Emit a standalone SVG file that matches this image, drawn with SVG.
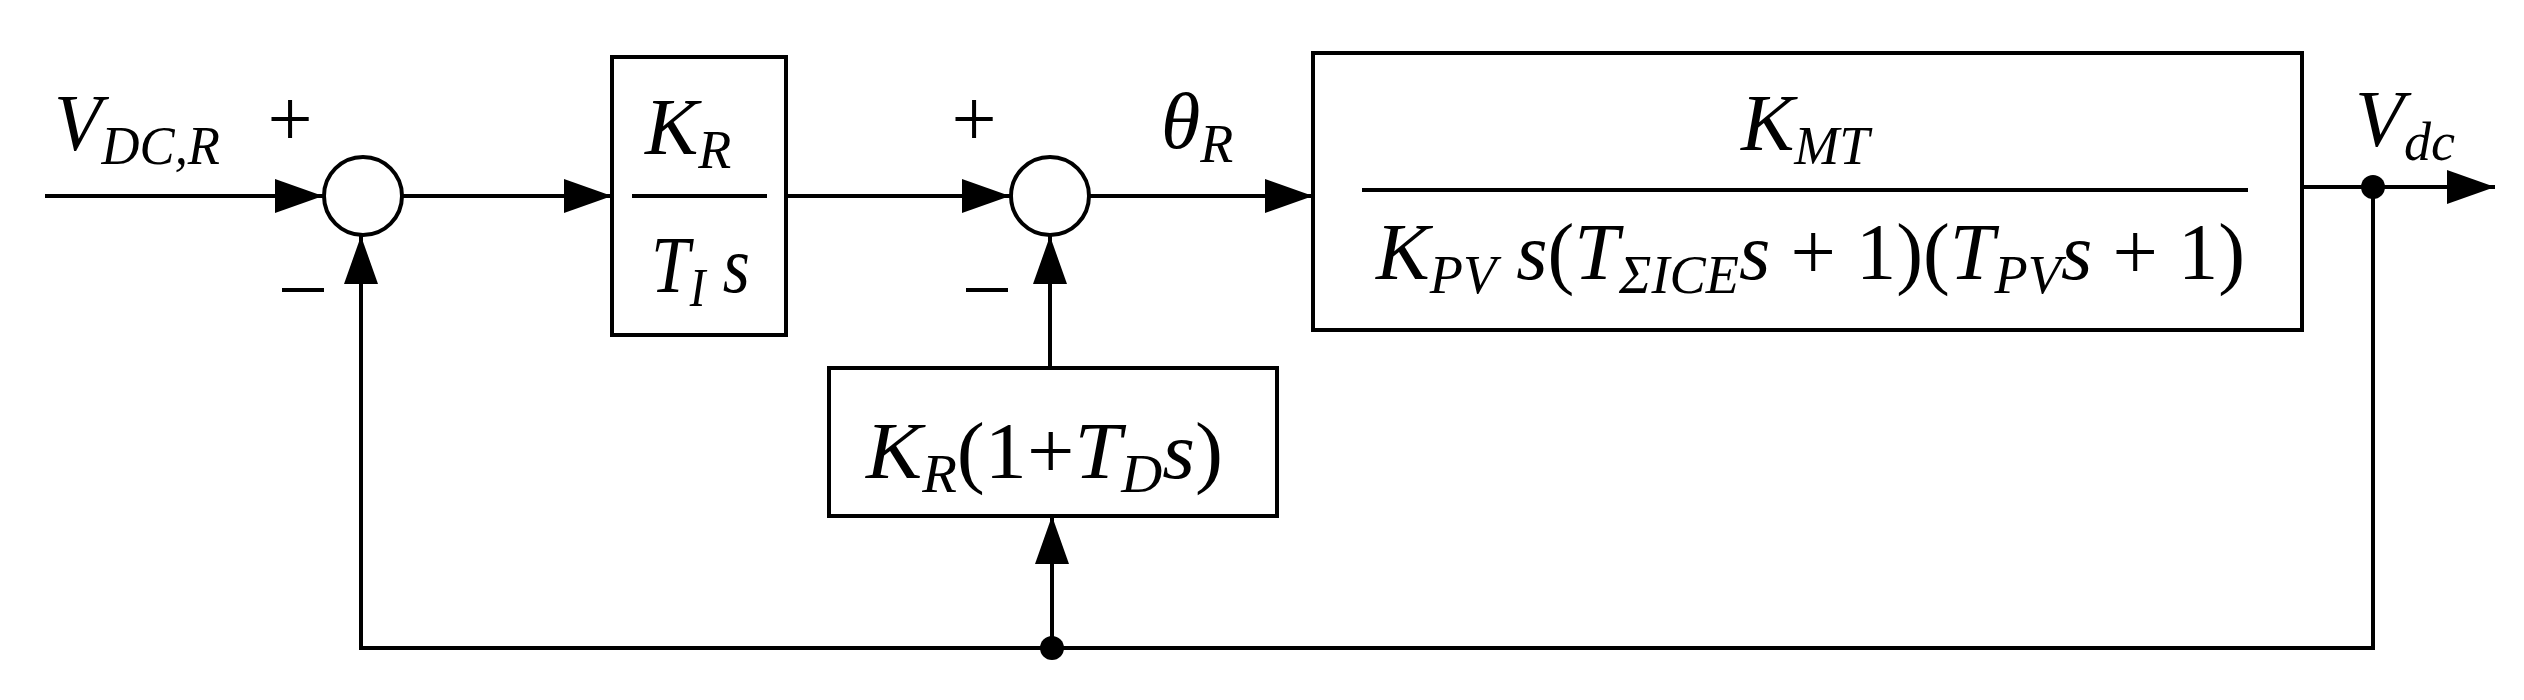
<svg xmlns="http://www.w3.org/2000/svg" width="2524" height="700" viewBox="0 0 2524 700">
<style>
.ln{stroke:#000;stroke-width:4;fill:none}
.bx{stroke:#000;stroke-width:4;fill:#fff}
text,tspan{font-family:'Liberation Serif','DejaVu Serif','Times New Roman',serif}
text{font-size:80px;fill:#000}
.i{font-style:italic}
.s{font-size:54px;font-style:italic}
.u{font-style:normal}
</style>
<defs>
<marker id="ah" markerUnits="userSpaceOnUse" markerWidth="48" markerHeight="34" refX="48" refY="17" orient="auto"><path d="M0,0 L48,17 L0,34 Z" fill="#000"/></marker>
</defs>
<rect width="2524" height="700" fill="#fff"/>
<g id="connectors">
<line class="ln" x1="45" y1="196" x2="323" y2="196" marker-end="url(#ah)"/>
<line class="ln" x1="403" y1="196" x2="612" y2="196" marker-end="url(#ah)"/>
<line class="ln" x1="786" y1="196" x2="1010" y2="196" marker-end="url(#ah)"/>
<line class="ln" x1="1090" y1="196" x2="1313" y2="196" marker-end="url(#ah)"/>
<line class="ln" x1="2302" y1="187" x2="2495" y2="187" marker-end="url(#ah)"/>
<polyline class="ln" points="2373,187 2373,648 361,648 361,236" marker-end="url(#ah)"/>
<line class="ln" x1="1052" y1="648" x2="1052" y2="516" marker-end="url(#ah)"/>
<line class="ln" x1="1050" y1="368" x2="1050" y2="236" marker-end="url(#ah)"/>
<circle cx="2373" cy="187" r="12" fill="#000"/>
<circle cx="1052" cy="648" r="12" fill="#000"/>
</g>
<g id="sum1"><circle class="bx" cx="363" cy="196" r="39"/></g>
<g id="sum2"><circle class="bx" cx="1050" cy="196" r="39"/></g>
<g id="pi">
<rect class="bx" x="612" y="57" width="174" height="278"/>
<line class="ln" x1="632" y1="196" x2="767" y2="196"/>
<text x="645" y="154"><tspan class="i">K</tspan><tspan class="s" dy="14">R</tspan></text>
<text x="651" y="292" textLength="99" lengthAdjust="spacingAndGlyphs"><tspan class="i">T</tspan><tspan class="s" dy="14">I</tspan><tspan class="i" dy="-14"> s</tspan></text>
</g>
<g id="plant">
<rect class="bx" x="1313" y="53" width="989" height="277"/>
<line class="ln" x1="1362" y1="190" x2="2248" y2="190"/>
<text x="1741" y="150"><tspan class="i">K</tspan><tspan class="s" dy="14">MT</tspan></text>
<text x="1376" y="279" textLength="869" lengthAdjust="spacingAndGlyphs"><tspan class="i">K</tspan><tspan class="s" dy="14">PV</tspan><tspan class="i" dy="-14"> s</tspan><tspan class="u">(</tspan><tspan class="i">T</tspan><tspan class="s" dy="14">ΣICE</tspan><tspan class="i" dy="-14">s</tspan><tspan class="u"> + 1)(</tspan><tspan class="i">T</tspan><tspan class="s" dy="14">PV</tspan><tspan class="i" dy="-14">s</tspan><tspan class="u"> + 1)</tspan></text>
</g>
<g id="deriv">
<rect class="bx" x="829" y="368" width="448" height="148"/>
<text x="866" y="478" textLength="357" lengthAdjust="spacingAndGlyphs"><tspan class="i">K</tspan><tspan class="s" dy="14">R</tspan><tspan class="u" dy="-14">(1+</tspan><tspan class="i">T</tspan><tspan class="s" dy="14">D</tspan><tspan class="i" dy="-14">s</tspan><tspan class="u">)</tspan></text>
</g>
<g id="labels">
<text x="54" y="150" textLength="166" lengthAdjust="spacingAndGlyphs"><tspan class="i">V</tspan><tspan class="s" dy="14">DC,R</tspan></text>
<text x="1161" y="148"><tspan class="i">θ</tspan><tspan class="s" dy="14">R</tspan></text>
<text x="2355" y="146"><tspan class="i">V</tspan><tspan class="s" dy="14">dc</tspan></text>
<text x="290" y="146" text-anchor="middle">+</text>
<text x="974" y="146" text-anchor="middle">+</text>
<line class="ln" x1="282" y1="290" x2="324" y2="290"/>
<line class="ln" x1="966" y1="290" x2="1008" y2="290"/>
</g>
</svg>
